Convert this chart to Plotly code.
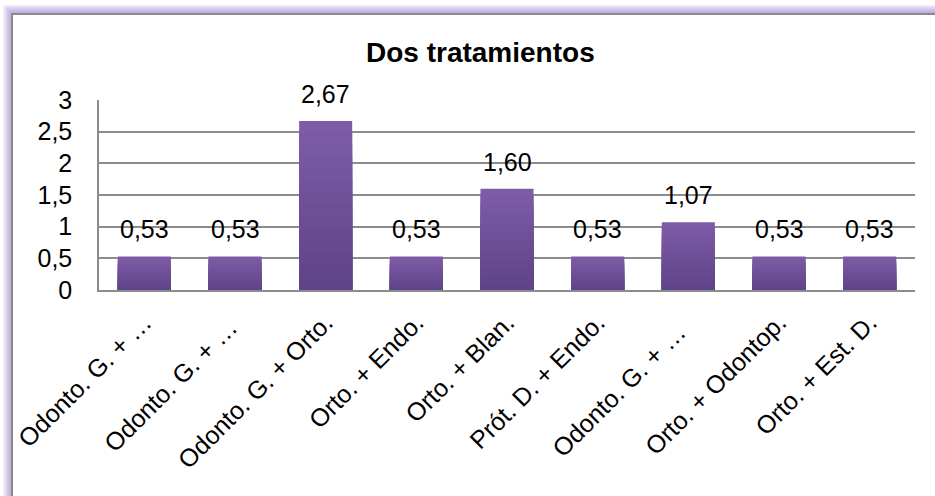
import plotly.graph_objects as go

categories = ["Odonto. G. + …", "Odonto. G. + … ", "Odonto. G. + Orto.", "Orto. + Endo.",
              "Orto. + Blan.", "Prót. D. + Endo.", "Odonto. G. + …  ", "Orto. + Odontop.",
              "Orto. + Est. D."]
values = [0.53, 0.53, 2.67, 0.53, 1.60, 0.53, 1.07, 0.53, 0.53]
y_ticks = [0, 0.5, 1, 1.5, 2, 2.5, 3]
title_text = "Dos tratamientos"

FONT = "Liberation Sans, Arial, sans-serif"
top_rgb = (127, 92, 168)
bot_rgb = (94, 67, 135)
N = 14


def px(x):
    return (x - 99) / 816


def py(y):
    return (290 - y) / 190


fig = go.Figure()
for k in range(N):
    f = (N - k - 0.5) / N
    c = tuple(int(round(b + (t - b) * f)) for t, b in zip(top_rgb, bot_rgb))
    fig.add_trace(go.Bar(
        x=categories,
        y=[v * (N - k) / N for v in values],
        width=0.585,
        marker=dict(color="rgb(%d,%d,%d)" % c, line=dict(width=0)),
        showlegend=False,
        hoverinfo="skip",
    ))

annotations = []
for cat, v in zip(categories, values):
    annotations.append(dict(
        x=cat, y=v, xref="x", yref="y",
        text=f"{v:.2f}".replace(".", ","),
        showarrow=False, yanchor="bottom", yshift=11,
        font=dict(family=FONT, size=25, color="black"),
    ))
annotations.append(dict(
    x=px(480), y=py(52), xref="paper", yref="paper",
    text="<b>" + title_text + "</b>", showarrow=False,
    xanchor="center", yanchor="middle",
    font=dict(family=FONT, size=28, color="black"),
))

shapes = []
glow_cols = [(238, 232, 247), (230, 222, 243), (222, 212, 239), (214, 202, 235),
             (206, 192, 231), (199, 183, 228), (193, 175, 225), (188, 168, 222)]
for i, col in enumerate(glow_cols):
    off = 8 - i
    shapes.append(dict(type="rect", xref="paper", yref="paper",
                       x0=px(12 - off), y0=py(700), x1=px(1200), y1=py(14 - off),
                       line=dict(color="rgb(%d,%d,%d)" % col, width=1.3), layer="below"))
shapes.append(dict(type="rect", xref="paper", yref="paper",
                   x0=px(12), y0=py(700), x1=px(1200), y1=py(14),
                   line=dict(color="#8a8a8a", width=2), fillcolor="white", layer="below"))

fig.update_layout(
    width=935, height=496,
    margin=dict(l=99, r=20, t=100, b=206, autoexpand=False),
    paper_bgcolor="white",
    plot_bgcolor="#ECEAF0",
    barmode="overlay",
    separators=",.",
    font=dict(family=FONT, size=25, color="black"),
    annotations=annotations,
    shapes=shapes,
    xaxis=dict(
        tickangle=-45,
        tickfont=dict(family=FONT, size=25, color="black"),
        showline=True, linecolor="#8c8c8c", linewidth=2,
        showgrid=False, ticks="",
        ticklabelstandoff=6,
    ),
    yaxis=dict(
        range=[0, 3],
        tickvals=y_ticks,
        tickfont=dict(family=FONT, size=25, color="black"),
        showgrid=True, gridcolor="#8c8c8c", gridwidth=1.5,
        showline=True, linecolor="#8c8c8c", linewidth=1.5,
        zeroline=False, ticks="",
        ticklabelstandoff=20,
    ),
)

fig.write_html("out.html")
